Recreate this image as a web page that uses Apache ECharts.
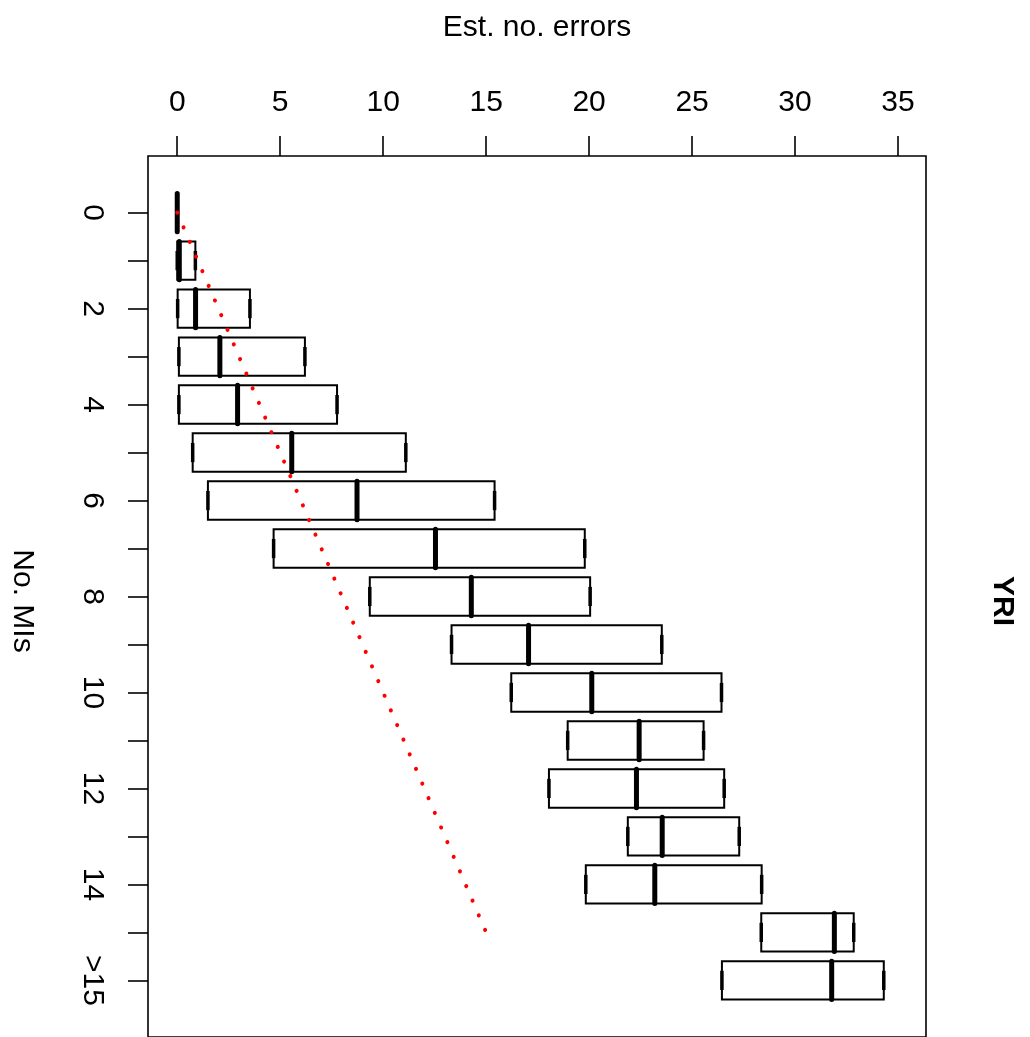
<!DOCTYPE html>
<html>
<head>
<meta charset="utf-8">
<script src="https://cdn.jsdelivr.net/npm/echarts@6/dist/echarts.min.js"></script>
<style>
  html, body { margin: 0; padding: 0; background: #fff; }
  #main { width: 1030px; height: 1037px; }
</style>
</head>
<body>
<div id="main"></div>
<script>
// categories (No. MIs) and box stats (Est. no. errors)
var cats = ['0','1','2','3','4','5','6','7','8','9','10','11','12','13','14','15','>15'];
var q1  = [0, 0,    0.02, 0.08, 0.08, 0.75, 1.49,  4.68,  9.35, 13.32, 16.22, 18.96, 18.05, 21.88, 19.84, 28.36, 26.45];
var med = [0, 0.1,  0.89, 2.07, 2.93, 5.56, 8.73, 12.54, 14.28, 17.06, 20.13, 22.43, 22.30, 23.55, 23.19, 31.91, 31.78];
var q3  = [0, 0.88, 3.53, 6.20, 7.76, 11.1, 15.41, 19.79, 20.05, 23.53, 26.43, 25.56, 26.56, 27.29, 28.38, 32.85, 34.31];
// red dotted reference line y = x
var refX = [0, 15];
var refCat = ['0', '15'];
var xTicks = [0, 5, 10, 15, 20, 25, 30, 35];

var FONT = 'Liberation Sans, Arial, sans-serif';

var domDiv = document.getElementById('main');
var chart = echarts.init(domDiv);

var boxData = cats.map(function (c, i) { return [i + 1, q1[i], med[i], q3[i]]; });
var refData = refX.map(function (x, i) { return [x, cats.indexOf(refCat[i]) + 1]; });
var posTicks = cats.map(function (c, i) { return i + 1; });
var posLabels = posTicks.filter(function (p, i) { return i % 2 === 0; });

var option = {
    animation: false,
    backgroundColor: '#fff',
    grid: { left: 148, right: 104, top: 156, bottom: -9, show: true, borderColor: '#000', borderWidth: 1.6 },
    xAxis: {
        type: 'value', position: 'top', min: -1.42, max: 36.36,
        axisLine: { show: false, onZero: false },
        splitLine: { show: false },
        axisTick: { show: true, inside: false, length: 20, customValues: xTicks, lineStyle: { color: '#000', width: 1.6 } },
        axisLabel: { customValues: xTicks, margin: 38.5, fontSize: 30, color: '#000', fontFamily: FONT }
    },
    yAxis: {
        type: 'value', inverse: true, min: -0.18, max: 18.18,
        axisLine: { show: false, onZero: false },
        splitLine: { show: false },
        axisTick: { show: true, inside: false, length: 20, customValues: posTicks, lineStyle: { color: '#000', width: 1.6 } },
        axisLabel: {
            customValues: posLabels, rotate: -90, margin: 41, fontSize: 30, color: '#000', fontFamily: FONT,
            formatter: function (v) { return cats[Math.round(v) - 1]; }
        }
    },
    graphic: [
        { type: 'text', x: 537, y: 28, style: { text: 'Est. no. errors', fontSize: 30, fontFamily: FONT, fill: '#000', align: 'center', verticalAlign: 'middle' } },
        { type: 'text', x: 22, y: 601, rotation: -Math.PI / 2, style: { text: 'No. MIs', fontSize: 30, fontFamily: FONT, fill: '#000', align: 'center', verticalAlign: 'middle' } },
        { type: 'text', x: 1002, y: 601, rotation: -Math.PI / 2, style: { text: 'YRI', fontSize: 30, fontWeight: 'bold', fontFamily: FONT, fill: '#000', align: 'center', verticalAlign: 'middle' } }
    ],
    series: [
        {
            type: 'custom',
            data: boxData,
            encode: { x: [1, 2, 3], y: 0 },
            z: 2,
            renderItem: function (params, api) {
                var pos = api.value(0);
                var a = api.coord([api.value(1), pos]);
                var m = api.coord([api.value(2), pos]);
                var b = api.coord([api.value(3), pos]);
                var h = api.size([0, 0.8])[1];
                var y = a[1];
                return {
                    type: 'group',
                    children: [
                        { type: 'rect', shape: { x: a[0], y: y - h / 2, width: b[0] - a[0], height: h },
                          style: { fill: 'none', stroke: '#000', lineWidth: 2 } },
                        { type: 'line', shape: { x1: a[0], y1: y - h / 4, x2: a[0], y2: y + h / 4 },
                          style: { stroke: '#000', lineWidth: 3.5 } },
                        { type: 'line', shape: { x1: b[0], y1: y - h / 4, x2: b[0], y2: y + h / 4 },
                          style: { stroke: '#000', lineWidth: 3.5 } },
                        { type: 'line', shape: { x1: m[0], y1: y - h / 2, x2: m[0], y2: y + h / 2 },
                          style: { stroke: '#000', lineWidth: 5, lineCap: 'round' } }
                    ]
                };
            }
        },
        {
            type: 'line',
            data: refData,
            symbol: 'none',
            silent: true,
            z: 5,
            lineStyle: { color: '#ff0000', width: 4, type: [0.1, 15.83], cap: 'round' }
        }
    ]
};
chart.setOption(option);
window.onresize = function () { chart.resize(); };
</script>
</body>
</html>
